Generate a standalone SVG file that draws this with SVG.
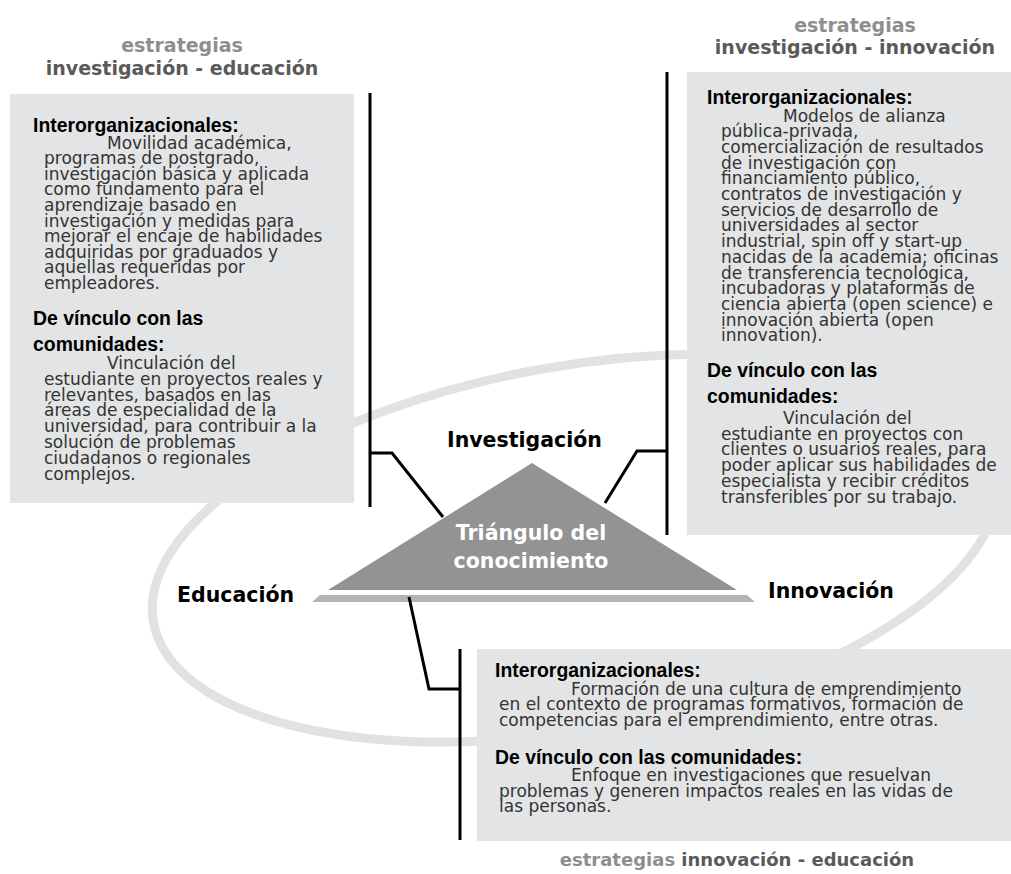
<svg xmlns="http://www.w3.org/2000/svg" width="1011" height="874" viewBox="0 0 1011 874">
<style>
.box{fill:#e3e4e5}
.h{font-family:"Liberation Sans",Arial,sans-serif;font-weight:bold;font-size:19.4px;fill:#000}
.b{font-family:"DejaVu Sans",Verdana,sans-serif;font-size:17px;fill:#333}
.st{font-family:"DejaVu Sans",Verdana,sans-serif;font-weight:bold;font-size:19px}
.g1{fill:#8e8e8e}
.g2{fill:#5a5a5a}
.lbl{font-family:"DejaVu Sans",Verdana,sans-serif;font-weight:bold;font-size:20.5px;fill:#000}
.tri{font-family:"DejaVu Sans",Verdana,sans-serif;font-weight:bold;font-size:20.5px;fill:#fff;text-anchor:middle}
.ln{fill:none;stroke:#000;stroke-width:3}
</style>
<rect width="1011" height="874" fill="#fff"/>
<g id="ring">
<ellipse cx="575" cy="548" rx="428" ry="182" transform="rotate(-10 575 548)" fill="none" stroke="#e2e2e2" stroke-width="9"/>
</g>
<g id="heading-inv-edu">
<text class="st g1" x="182" y="52" text-anchor="middle">estrategias</text>
<text class="st g2" x="182" y="75" text-anchor="middle">investigación - educación</text>
</g>
<g id="heading-inv-inn">
<text class="st g1" x="855" y="32" text-anchor="middle">estrategias</text>
<text class="st g2" x="855" y="54" text-anchor="middle">investigación - innovación</text>
</g>
<g id="heading-inn-edu">
<text class="st" x="737" y="866" text-anchor="middle" style="font-size:18px"><tspan class="g1">estrategias</tspan><tspan class="g2"> innovación - educación</tspan></text>
</g>
<g id="box-inv-edu">
<rect class="box" x="10" y="94" width="344" height="409"/>
<text class="h" x="33" y="132">Interorganizacionales:</text>
<text class="b"><tspan x="107" y="148.5">Movilidad académica,</tspan><tspan x="44" y="164.1">programas de postgrado,</tspan><tspan x="44" y="179.7">investigación básica y aplicada</tspan><tspan x="44" y="195.3">como fundamento para el</tspan><tspan x="44" y="210.9">aprendizaje basado en</tspan><tspan x="44" y="226.5">investigación y medidas para</tspan><tspan x="44" y="242.1">mejorar el encaje de habilidades</tspan><tspan x="44" y="257.7">adquiridas por graduados y</tspan><tspan x="44" y="273.3">aquellas requeridas por</tspan><tspan x="44" y="288.9">empleadores.</tspan></text>
<text class="h" x="33" y="325">De vínculo con las</text>
<text class="h" x="33" y="351">comunidades:</text>
<text class="b"><tspan x="107" y="369">Vinculación del</tspan><tspan x="44" y="384.8">estudiante en proyectos reales y</tspan><tspan x="44" y="400.6">relevantes, basados en las</tspan><tspan x="44" y="416.4">áreas de especialidad de la</tspan><tspan x="44" y="432.2">universidad, para contribuir a la</tspan><tspan x="44" y="448">solución de problemas</tspan><tspan x="44" y="463.8">ciudadanos o regionales</tspan><tspan x="44" y="479.6">complejos.</tspan></text>
</g>
<g id="box-inv-inn">
<rect class="box" x="687" y="72" width="324" height="463"/>
<text class="h" x="707" y="104">Interorganizacionales:</text>
<text class="b"><tspan x="783" y="121.5">Modelos de alianza</tspan><tspan x="721" y="137.2">pública-privada,</tspan><tspan x="721" y="152.9">comercialización de resultados</tspan><tspan x="721" y="168.6">de investigación con</tspan><tspan x="721" y="184.3">financiamiento público,</tspan><tspan x="721" y="200">contratos de investigación y</tspan><tspan x="721" y="215.7">servicios de desarrollo de</tspan><tspan x="721" y="231.4">universidades al sector</tspan><tspan x="721" y="247.1">industrial, spin off y start-up</tspan><tspan x="721" y="262.8">nacidas de la academia; oficinas</tspan><tspan x="721" y="278.5">de transferencia tecnológica,</tspan><tspan x="721" y="294.2">incubadoras y plataformas de</tspan><tspan x="721" y="309.9">ciencia abierta (open science) e</tspan><tspan x="721" y="325.6">innovación abierta (open</tspan><tspan x="721" y="341.3">innovation).</tspan></text>
<text class="h" x="707" y="377">De vínculo con las</text>
<text class="h" x="707" y="403">comunidades:</text>
<text class="b"><tspan x="783" y="424">Vinculación del</tspan><tspan x="721" y="439.7">estudiante en proyectos con</tspan><tspan x="721" y="455.4">clientes o usuarios reales, para</tspan><tspan x="721" y="471.1">poder aplicar sus habilidades de</tspan><tspan x="721" y="486.8">especialista y recibir créditos</tspan><tspan x="721" y="502.5">transferibles por su trabajo.</tspan></text>
</g>
<g id="box-inn-edu">
<rect class="box" x="477" y="649" width="534" height="192"/>
<text class="h" x="495" y="677">Interorganizacionales:</text>
<text class="b"><tspan x="571" y="694.5">Formación de una cultura de emprendimiento</tspan><tspan x="499" y="710">en el contexto de programas formativos, formación de</tspan><tspan x="499" y="725.5">competencias para el emprendimiento, entre otras.</tspan></text>
<text class="h" x="495" y="764">De vínculo con las comunidades:</text>
<text class="b"><tspan x="571" y="781">Enfoque en investigaciones que resuelvan</tspan><tspan x="499" y="796.5">problemas y generen impactos reales en las vidas de</tspan><tspan x="499" y="812">las personas.</tspan></text>
</g>
<g id="triangle">
<polygon points="312,602 320,595 747,595 755,602" fill="#b3b3b3"/>
<polygon points="532,463 328,590 737,590" fill="#939393"/>
<text class="tri" x="531" y="540">Triángulo del</text>
<text class="tri" x="531" y="568">conocimiento</text>
</g>
<g id="labels">
<text class="lbl" x="447" y="447">Investigación</text>
<text class="lbl" x="177" y="602">Educación</text>
<text class="lbl" x="768" y="598">Innovación</text>
</g>
<g id="connectors">
<line class="ln" x1="370" y1="93" x2="370" y2="507"/>
<polyline class="ln" points="370,453 392,453 443,517"/>
<line class="ln" x1="667" y1="72" x2="667" y2="535"/>
<polyline class="ln" points="667,451 637,451 605,503"/>
<line class="ln" x1="460" y1="649" x2="460" y2="840"/>
<polyline class="ln" points="409,597 429,689 460,689"/>
</g>
</svg>
